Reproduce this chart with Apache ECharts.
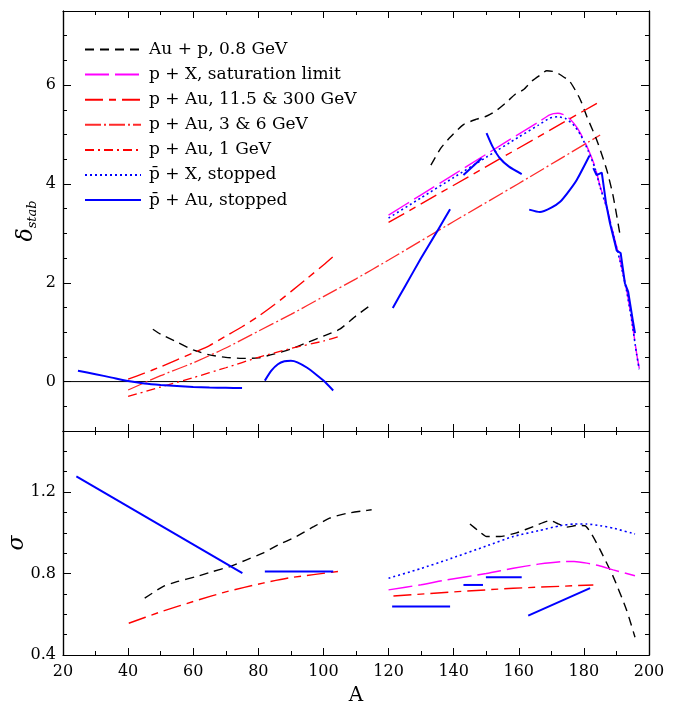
<!DOCTYPE html>
<html>
<head>
<meta charset="utf-8">
<script src="https://cdn.jsdelivr.net/npm/echarts@6/dist/echarts.min.js"></script>
<style>html,body{margin:0;padding:0;background:#fff}#c{width:678px;height:702px}</style>
</head>
<body>
<div id="c"></div>
<script>
// ---------- Data (A, value) ----------
const xTicks = [20, 40, 60, 80, 100, 120, 140, 160, 180, 200];
const topYLabels = [0, 2, 4, 6];
const botYLabels = [0.4, 0.8, 1.2];
const zeroLine = [[20, 0], [200, 0]];

const NAME_AUP = 'Au + p, 0.8 GeV';
const NAME_SAT = 'p + X, saturation limit';
const NAME_HI = 'p + Au, 11.5 & 300 GeV';
const NAME_36 = 'p + Au, 3 & 6 GeV';
const NAME_1 = 'p + Au, 1 GeV';
const NAME_PBX = 'p\u0304 + X, stopped';
const NAME_PBAU = 'p\u0304 + Au, stopped';

// top panel: delta_stab
const auP_top_a = [[47.6,1.06],[50,0.96],[55,0.80],[60,0.64],[65,0.54],[70,0.49],[75,0.47],[80,0.48],[85,0.56],[90,0.66],[95,0.79],[100,0.92],[105,1.06],[110,1.33],[115,1.57]];
const auP_top_b = [[133,4.38],[136,4.72],[139,4.95],[143,5.20],[147,5.31],[150,5.37],[153,5.48],[156,5.64],[159,5.82],[161.5,5.91],[164,6.08],[166.5,6.20],[168.6,6.29],[171,6.27],[173,6.20],[175.7,6.07],[178.8,5.72],[181,5.35],[184,4.88],[187,4.29],[189,3.75],[191.1,2.97]];
const sat_top = [[120,3.37],[130,3.78],[140,4.19],[150,4.60],[160,5.01],[166,5.25],[169.5,5.40],[172,5.43],[174.5,5.38],[177,5.22],[179,5.02],[181.4,4.69],[183.4,4.35],[185,3.95],[187,3.54],[189,3.00],[191.1,2.46],[193.1,1.86],[194.7,1.25],[196.2,0.57],[197,0.27]];
const hi_top_a = [[40,0.05],[45,0.17],[50,0.30],[55,0.44],[60,0.58],[65,0.73],[70,0.92],[75,1.11],[80,1.32],[85,1.56],[90,1.82],[95,2.09],[100,2.36],[103.5,2.56]];
const hi_top_b = [[120,3.22],[150,4.35],[185,5.67]];
const g36_top = [[40,-0.17],[50,0.12],[60,0.38],[70,0.68],[80,1.02],[90,1.36],[100,1.72],[110,2.08],[120,2.46],[140,3.24],[160,4.01],[185,4.99]];
const g1_top = [[40,-0.30],[50,-0.11],[60,0.08],[70,0.28],[80,0.49],[90,0.67],[100,0.82],[105,0.92]];
const pbX_top = [[120,3.31],[130,3.72],[140,4.13],[150,4.54],[160,4.95],[166,5.19],[169.5,5.33],[172,5.36],[174.5,5.32],[177,5.18],[179,4.99],[181.4,4.66],[183.4,4.32],[185,3.93],[187,3.52],[189,2.98],[191.1,2.44],[193.1,1.84],[194.7,1.23],[196.2,0.55],[197,0.25]];
const pbAu_top_a = [[24.6,0.22],[30,0.15],[35,0.08],[40,0.01],[45,-0.04],[50,-0.07],[55,-0.09],[60,-0.11],[65,-0.12],[70,-0.125],[75,-0.13]];
const pbAu_top_b = [[82,0.02],[84,0.22],[86,0.35],[88,0.41],[90,0.42],[92,0.39],[95,0.28],[98,0.13],[100,0.02],[103,-0.18]];
const pbAu_top_c = [[121.3,1.49],[125,1.92],[130,2.50],[135,3.05],[138.9,3.49]];
const pbAu_top_d = [[143,4.18],[148.6,4.52]];
const pbAu_top_e = [[150.1,5.03],[152,4.75],[154.2,4.52],[157,4.35],[160.9,4.20]];
const pbAu_top_f = [[163.2,3.48],[166.5,3.43],[170,3.52],[172.7,3.64],[175,3.82],[177.8,4.08],[181.7,4.57]];
const pbAu_top_g = [[182.9,4.32],[183.9,4.18],[185.5,4.23],[186.8,3.61],[188,3.21],[190.1,2.65],[191.3,2.60],[192.6,1.99],[193.6,1.82],[195,1.25],[195.7,0.98]];

// bottom panel: sigma
const auP_bot_a = [[45.1,0.679],[50.7,0.736],[55,0.76],[60.9,0.785],[66,0.81],[71.2,0.834],[76,0.865],[81.4,0.90],[86,0.94],[91.7,0.982],[97,1.03],[101.9,1.072],[107,1.095],[112.2,1.108],[114.8,1.113]];
const auP_bot_b = [[145,1.043],[148,1.005],[150.1,0.982],[154.2,0.982],[159.3,1.0],[164.5,1.031],[169.6,1.06],[172.1,1.044],[174.7,1.028],[177.8,1.036],[180.3,1.035],[182.5,0.99],[185,0.916],[189,0.785],[193.1,0.621],[195.7,0.487]];
const hi_bot_a = [[40.2,0.556],[50,0.612],[60.9,0.667],[70,0.71],[81.4,0.753],[90,0.78],[104.5,0.81]];
const hi_bot_b = [[121.5,0.69],[140,0.71],[158.3,0.728],[182.9,0.744]];
const sat_bot = [[120,0.72],[130,0.745],[137.9,0.769],[150,0.80],[158.3,0.826],[166,0.846],[174.2,0.859],[177,0.859],[180.9,0.851],[185,0.837],[189,0.818],[195.7,0.789]];
const pbX_bot = [[120,0.777],[130,0.825],[137.9,0.867],[150,0.935],[158.3,0.982],[166,1.01],[172.7,1.035],[177,1.043],[180.9,1.043],[185,1.035],[189,1.023],[195.7,0.994]];
const pbAu_bot_a = [[24.1,1.277],[75.1,0.802]];
const pbAu_bot_b = [[82,0.81],[103,0.81]];
const pbAu_bot_c = [[121.1,0.638],[138.9,0.638]];
const pbAu_bot_d = [[143,0.744],[149,0.744]];
const pbAu_bot_e = [[149.9,0.782],[160.9,0.782]];
const pbAu_bot_f = [[162.9,0.593],[181.9,0.728]];

// ---------- Styles ----------
const ST = {};
ST[NAME_AUP] = {color:'#000000', width:1.4, type:[9,6]};
ST[NAME_SAT] = {color:'#ff00ff', width:1.4, type:[24,6]};
ST[NAME_HI] = {color:'#ff0000', width:1.4, type:[18,6,7,6]};
ST[NAME_36] = {color:'#ff2a2a', width:1.3, type:[16,3,2,3]};
ST[NAME_1] = {color:'#ff0000', width:1.3, type:[9,4,2,4]};
ST[NAME_PBX] = {color:'#0000ff', width:1.6, type:[2,3]};
ST[NAME_PBAU] = {color:'#0000ff', width:2, type:'solid'};

const FONT = 'DejaVu Serif';
const series = [];
function add(name, data, panel, smooth) {
  const s = ST[name];
  series.push({
    name: name, type: 'line', data: data,
    xAxisIndex: panel === 0 ? 0 : 2, yAxisIndex: panel === 0 ? 0 : 4,
    symbol: 'none', showSymbol: false, smooth: smooth ? 0.2 : false,
    lineStyle: {color: s.color, width: s.width, type: s.type},
    itemStyle: {color: s.color},
    silent: true, z: 3
  });
}
// legend order first
add(NAME_AUP, auP_top_a, 0, true);
add(NAME_SAT, sat_top, 0, true);
add(NAME_HI, hi_top_a, 0, true);
add(NAME_36, g36_top, 0, true);
add(NAME_1, g1_top, 0, true);
add(NAME_PBX, pbX_top, 0, true);
add(NAME_PBAU, pbAu_top_a, 0, true);
add(NAME_AUP, auP_top_b, 0, true);
add(NAME_HI, hi_top_b, 0, false);
add(NAME_PBAU, pbAu_top_b, 0, true);
add(NAME_PBAU, pbAu_top_c, 0, true);
add(NAME_PBAU, pbAu_top_d, 0, false);
add(NAME_PBAU, pbAu_top_e, 0, true);
add(NAME_PBAU, pbAu_top_f, 0, true);
add(NAME_PBAU, pbAu_top_g, 0, false);
add(NAME_AUP, auP_bot_a, 1, true);
add(NAME_AUP, auP_bot_b, 1, true);
add(NAME_HI, hi_bot_a, 1, true);
add(NAME_HI, hi_bot_b, 1, false);
add(NAME_SAT, sat_bot, 1, true);
add(NAME_PBX, pbX_bot, 1, true);
add(NAME_PBAU, pbAu_bot_a, 1, false);
add(NAME_PBAU, pbAu_bot_b, 1, false);
add(NAME_PBAU, pbAu_bot_c, 1, false);
add(NAME_PBAU, pbAu_bot_d, 1, false);
add(NAME_PBAU, pbAu_bot_e, 1, false);
add(NAME_PBAU, pbAu_bot_f, 1, false);
series.push({type:'line', data: zeroLine, xAxisIndex:0, yAxisIndex:0, symbol:'none', silent:true,
  lineStyle:{color:'#000', width:1}, z:2});

const axLine = {show:true, onZero:false, lineStyle:{color:'#000', width:1.2}};
function xAx(grid, pos, labels) {
  return {
    type:'value', gridIndex:grid, position:pos, min:xTicks[0], max:xTicks[xTicks.length-1], interval:20,
    axisLine: axLine,
    axisTick:{show:true, inside:true, length:7, lineStyle:{color:'#000', width:1}},
    minorTick:{show:true, splitNumber:2, length:4, lineStyle:{color:'#000', width:1}},
    splitLine:{show:false}, minorSplitLine:{show:false},
    axisLabel:{show:labels, color:'#000', fontFamily:FONT, fontSize:16, margin:9,
      customValues: xTicks},
    name: labels ? 'A' : '', nameLocation:'middle', nameGap:31, nameMoveOverlap:false,
    nameTextStyle:{fontFamily:FONT, fontSize:20, color:'#000'}
  };
}
function yAx(grid, pos, min, max, step, major, labels, fmt, name, nameGap) {
  const a = {
    type:'value', gridIndex:grid, position:pos, min:min, max:max, interval:step,
    axisLine: axLine, splitLine:{show:false},
    axisTick: major ? {show:true, inside:true, length:8, customValues:major, lineStyle:{color:'#000', width:1}}
                    : {show:true, inside:true, length:4, lineStyle:{color:'#000', width:1}},
    axisLabel: labels ? {show:true, customValues:labels, formatter:fmt, color:'#000', fontFamily:FONT, fontSize:16, margin:7}
                      : {show:false}
  };
  if (name) {
    a.name = name; a.nameLocation = 'middle'; a.nameGap = nameGap; a.nameRotate = 90;
    a.nameMoveOverlap = false;
    a.nameTextStyle = {color:'#000', fontFamily:FONT, fontStyle:'italic', fontSize:22,
      rich:{d:{fontFamily:FONT, fontStyle:'italic', fontSize:22, color:'#000'},
            s:{fontFamily:FONT, fontSize:13, color:'#000', padding:[12,0,0,0]}}};
  }
  return a;
}

const option = {
  animation:false,
  backgroundColor:'#ffffff',
  grid:[
    {left:63, right:29, top:11, height:420, containLabel:false, outerBoundsMode:'none'},
    {left:63, right:29, top:431, height:224, containLabel:false, outerBoundsMode:'none'}
  ],
  xAxis:[
    xAx(0,'bottom',false), xAx(0,'top',false),
    xAx(1,'bottom',true), xAx(1,'top',false)
  ],
  yAxis:[
    yAx(0,'left',-1,7.5,0.5,null,topYLabels,v=>String(v),'{d|δ}{s|stab}',24),
    yAx(0,'left',-1,7.5,0.5,topYLabels,null),
    yAx(0,'right',-1,7.5,0.5,null,null),
    yAx(0,'right',-1,7.5,0.5,topYLabels,null),
    yAx(1,'left',0.4,1.5,0.1,null,botYLabels,v=>v.toFixed(1),'{d|σ}',35),
    yAx(1,'left',0.4,1.5,0.1,botYLabels,null),
    yAx(1,'right',0.4,1.5,0.1,null,null),
    yAx(1,'right',0.4,1.5,0.1,botYLabels,null)
  ],
  legend:{
    show:true, orient:'vertical', left:79, top:36,
    itemWidth:56, itemHeight:14, itemGap:8.1,
    data:[NAME_AUP, NAME_SAT, NAME_HI, NAME_36, NAME_1, NAME_PBX, NAME_PBAU],
    itemStyle:{opacity:0, borderWidth:0},
    textStyle:{fontFamily:FONT, fontSize:17, color:'#000', lineHeight:14, padding:[0,0,0,3]},
    selectedMode:false
  },
  series: series
};
const chart = echarts.init(document.getElementById('c'), null, {renderer:'canvas'});
chart.setOption(option);
</script>
</body>
</html>
